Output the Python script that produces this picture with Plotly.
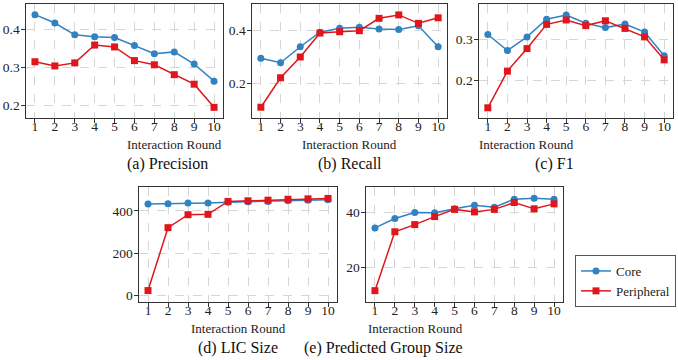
import plotly.graph_objects as go

rounds = [1, 2, 3, 4, 5, 6, 7, 8, 9, 10]

precision_core = [0.438, 0.416, 0.385, 0.380, 0.378, 0.357, 0.335, 0.340, 0.308, 0.263]
precision_peri = [0.314, 0.303, 0.311, 0.358, 0.353, 0.317, 0.306, 0.280, 0.255, 0.194]

recall_core = [0.295, 0.278, 0.339, 0.394, 0.409, 0.413, 0.406, 0.405, 0.419, 0.339]
recall_peri = [0.109, 0.221, 0.300, 0.391, 0.396, 0.400, 0.447, 0.460, 0.428, 0.449]

f1_core = [0.313, 0.273, 0.307, 0.351, 0.361, 0.341, 0.330, 0.339, 0.319, 0.260]
f1_peri = [0.131, 0.222, 0.278, 0.338, 0.349, 0.335, 0.347, 0.328, 0.307, 0.250]

lic_core = [433, 434, 437, 438, 441, 443, 445, 448, 451, 453]
lic_peri = [24, 321, 382, 384, 445, 448, 451, 455, 457, 459]

group_core = [34.4, 37.8, 40.0, 39.9, 41.3, 42.6, 41.9, 44.8, 45.1, 44.8]
group_peri = [11.7, 33.0, 35.6, 38.5, 41.1, 40.2, 41.1, 43.6, 41.3, 43.1]

captions = ["(a) Precision", "(b) Recall", "(c) F1", "(d) LIC Size", "(e) Predicted Group Size"]
series_names = ["Core", "Peripheral"]

W, H = 678, 360
BLUE = "#3182c0"
RED = "#e0161c"
FONT = "Liberation Serif, Times New Roman, serif"

# panel pixel boxes: (left, right, top, bottom)
boxes = [
    (26, 223, 4, 118),
    (252, 447, 4, 118),
    (479, 673, 4, 118),
    (139, 337, 187, 302),
    (366, 563, 187, 302),
]
yranges = [
    [0.166, 0.466],
    [0.068, 0.5015],
    [0.1057, 0.3886],
    [-30, 513],
    [7.6, 49.2],
]
yticks = [
    [0.2, 0.3, 0.4],
    [0.2, 0.4],
    [0.2, 0.3],
    [0, 200, 400],
    [20, 40],
]
data = [
    (precision_core, precision_peri),
    (recall_core, recall_peri),
    (f1_core, f1_peri),
    (lic_core, lic_peri),
    (group_core, group_peri),
]

fig = go.Figure()
annotations = []
for i, (box, yr, yt, (core, peri)) in enumerate(zip(boxes, yranges, yticks, data)):
    n = "" if i == 0 else str(i + 1)
    l, r, t, b = box
    common = dict(
        showline=True, mirror=True, linecolor="#333333", linewidth=1.3,
        ticks="outside", ticklen=3.5, tickcolor="#333333", tickwidth=1,
        showgrid=True, gridcolor="#d6d6d6", griddash="dash", gridwidth=0.8,
        zeroline=False, tickfont=dict(family=FONT, size=13.5, color="#222"),
    )
    xa = dict(domain=[l / W, r / W], range=[0.55, 10.45], tickvals=rounds,
              anchor="y" + n, ticklabelstandoff=-8, **common)
    ya = dict(domain=[1 - b / H, 1 - t / H], range=yr, tickvals=yt,
              anchor="x" + n, ticklabelstandoff=-1, **common)
    fig.update_layout({"xaxis" + n: xa, "yaxis" + n: ya})
    fig.add_trace(go.Scatter(
        x=rounds, y=core, mode="lines+markers", name=series_names[0],
        line=dict(color=BLUE, width=1.5), marker=dict(symbol="circle", size=7, color=BLUE),
        xaxis="x" + n, yaxis="y" + n, showlegend=(i == 0),
    ))
    fig.add_trace(go.Scatter(
        x=rounds, y=peri, mode="lines+markers", name=series_names[1],
        line=dict(color=RED, width=1.5), marker=dict(symbol="square", size=7, color=RED),
        xaxis="x" + n, yaxis="y" + n, showlegend=(i == 0),
    ))
    cx = (l + r) / 2 / W
    annotations.append(dict(
        x=cx, y=1 - (b + 26) / H, xref="paper", yref="paper", text="Interaction Round",
        showarrow=False, font=dict(family=FONT, size=13, color="#222"), yanchor="middle",
    ))
    annotations.append(dict(
        x=cx, y=1 - (b + 46) / H, xref="paper", yref="paper", text=captions[i],
        showarrow=False, font=dict(family=FONT, size=16, color="#111"), yanchor="middle",
    ))

fig.update_layout(
    width=W, height=H, margin=dict(l=0, r=0, t=0, b=0),
    paper_bgcolor="white", plot_bgcolor="white",
    font=dict(family=FONT),
    annotations=annotations,
    legend=dict(
        x=575 / W, y=1 - 255 / H, xanchor="left", yanchor="top",
        bordercolor="#555", borderwidth=1, bgcolor="white",
        font=dict(family=FONT, size=13, color="#222"),
        itemwidth=30, tracegroupgap=0,
    ),
)

fig.write_html("out.html")
